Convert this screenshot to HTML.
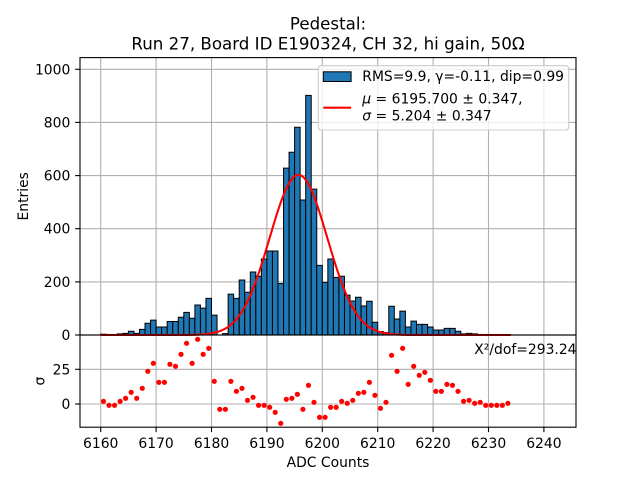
<!DOCTYPE html>
<html>
<head>
<meta charset="utf-8">
<style>
html,body{margin:0;padding:0;background:#fff;}
svg{display:block;}
text{font-family:"DejaVu Sans","Liberation Sans",sans-serif;fill:#000;}
.bars rect{fill:#1f77b4;stroke:#000;stroke-width:1;vector-effect:non-scaling-stroke;}
.grid line{stroke:#b0b0b0;stroke-width:1.1;}
.tick line{stroke:#000;stroke-width:1.1;}
</style>
</head>
<body>
<svg width="640" height="480" viewBox="0 0 640 480" xmlns="http://www.w3.org/2000/svg">
<rect x="0" y="0" width="640" height="480" fill="#fff"/>

<!-- grid main -->
<g class="grid">
  <line x1="100.7" y1="57.6" x2="100.7" y2="335"/>
  <line x1="156.1" y1="57.6" x2="156.1" y2="335"/>
  <line x1="211.5" y1="57.6" x2="211.5" y2="335"/>
  <line x1="266.9" y1="57.6" x2="266.9" y2="335"/>
  <line x1="322.3" y1="57.6" x2="322.3" y2="335"/>
  <line x1="377.7" y1="57.6" x2="377.7" y2="335"/>
  <line x1="433.1" y1="57.6" x2="433.1" y2="335"/>
  <line x1="488.5" y1="57.6" x2="488.5" y2="335"/>
  <line x1="543.9" y1="57.6" x2="543.9" y2="335"/>
  <line x1="80" y1="281.9" x2="576" y2="281.9"/>
  <line x1="80" y1="228.7" x2="576" y2="228.7"/>
  <line x1="80" y1="175.6" x2="576" y2="175.6"/>
  <line x1="80" y1="122.4" x2="576" y2="122.4"/>
  <line x1="80" y1="69.3" x2="576" y2="69.3"/>
  <!-- residual grid -->
  <line x1="100.7" y1="335" x2="100.7" y2="427.2"/>
  <line x1="156.1" y1="335" x2="156.1" y2="427.2"/>
  <line x1="211.5" y1="335" x2="211.5" y2="427.2"/>
  <line x1="266.9" y1="335" x2="266.9" y2="427.2"/>
  <line x1="322.3" y1="335" x2="322.3" y2="427.2"/>
  <line x1="377.7" y1="335" x2="377.7" y2="427.2"/>
  <line x1="433.1" y1="335" x2="433.1" y2="427.2"/>
  <line x1="488.5" y1="335" x2="488.5" y2="427.2"/>
  <line x1="543.9" y1="335" x2="543.9" y2="427.2"/>
  <line x1="80" y1="404" x2="576" y2="404"/>
  <line x1="80" y1="369.3" x2="576" y2="369.3"/>
</g>

<!-- histogram bars -->
<g class="bars" transform="translate(100.7 335) scale(5.54 -0.2657)">
<rect x="0" width="1" height="3"/><rect x="1" width="1" height="2"/><rect x="2" width="1" height="2"/><rect x="3" width="1" height="4"/><rect x="4" width="1" height="6"/>
<rect x="5" width="1" height="14"/><rect x="6" width="1" height="6"/><rect x="7" width="1" height="21"/><rect x="8" width="1" height="44"/><rect x="9" width="1" height="56"/>
<rect x="10" width="1" height="30"/><rect x="11" width="1" height="30"/><rect x="12" width="1" height="51"/><rect x="13" width="1" height="51"/><rect x="14" width="1" height="67"/>
<rect x="15" width="1" height="85"/><rect x="16" width="1" height="63"/><rect x="17" width="1" height="113"/><rect x="18" width="1" height="101"/><rect x="19" width="1" height="138"/>
<rect x="20" width="1" height="75"/><rect x="21" width="1" height="0"/><rect x="22" width="1" height="5"/><rect x="23" width="1" height="154"/><rect x="24" width="1" height="138"/>
<rect x="25" width="1" height="207"/><rect x="26" width="1" height="161"/><rect x="27" width="1" height="237"/><rect x="28" width="1" height="221"/><rect x="29" width="1" height="286"/>
<rect x="30" width="1" height="316"/><rect x="31" width="1" height="316"/><rect x="32" width="1" height="194"/><rect x="33" width="1" height="628"/><rect x="34" width="1" height="688"/>
<rect x="35" width="1" height="782"/><rect x="36" width="1" height="508"/><rect x="37" width="1" height="902"/><rect x="38" width="1" height="549"/><rect x="39" width="1" height="262"/>
<rect x="40" width="1" height="198"/><rect x="41" width="1" height="286"/><rect x="42" width="1" height="217"/><rect x="43" width="1" height="221"/><rect x="44" width="1" height="150"/>
<rect x="45" width="1" height="128"/><rect x="46" width="1" height="142"/><rect x="47" width="1" height="109"/><rect x="48" width="1" height="127"/><rect x="49" width="1" height="48"/>
<rect x="50" width="1" height="13"/><rect x="51" width="1" height="9"/><rect x="52" width="1" height="108"/><rect x="53" width="1" height="60"/><rect x="54" width="1" height="90"/>
<rect x="55" width="1" height="30"/><rect x="56" width="1" height="52"/><rect x="57" width="1" height="40"/><rect x="58" width="1" height="40"/><rect x="59" width="1" height="30"/>
<rect x="60" width="1" height="19"/><rect x="61" width="1" height="19"/><rect x="62" width="1" height="25"/><rect x="63" width="1" height="25"/><rect x="64" width="1" height="14"/>
<rect x="65" width="1" height="4"/><rect x="66" width="1" height="6"/><rect x="67" width="1" height="4"/><rect x="68" width="1" height="2"/><rect x="69" width="1" height="1"/>
<rect x="70" width="1" height="1"/><rect x="71" width="1" height="1"/><rect x="72" width="1" height="1"/><rect x="73" width="1" height="1"/>
</g>

<!-- gaussian fit -->
<polyline fill="none" stroke="#ff0000" stroke-width="2.08" stroke-linejoin="round" points="
100.7,335 182.14,334.95 187.68,334.90 193.22,334.79 198.76,334.59 204.30,334.23 209.84,333.58 215.38,332.48 218.15,331.70 220.92,330.70 223.69,329.46 226.46,327.93 229.23,326.05 232.00,323.78 234.77,321.06 237.54,317.84 240.31,314.07 243.08,309.71 245.85,304.73 248.62,299.08 251.39,292.79 254.16,285.85 256.93,278.29 259.70,270.17 262.47,261.56 265.24,252.59 268.01,243.35 270.78,234.02 273.55,224.77 276.32,215.77 279.09,207.23 281.86,199.32 284.63,192.26 287.40,186.20 290.17,181.32 292.94,177.73 295.71,175.53 298.48,174.80 301.25,175.53 304.02,177.73 306.79,181.32 309.56,186.20 312.33,192.26 315.10,199.32 317.87,207.23 320.64,215.77 323.41,224.77 326.18,234.02 328.95,243.35 331.72,252.59 334.49,261.56 337.26,270.17 340.03,278.29 342.80,285.85 345.57,292.79 348.34,299.08 351.11,304.73 353.88,309.71 356.65,314.07 359.42,317.84 362.19,321.06 364.96,323.78 367.73,326.05 370.50,327.93 373.27,329.46 376.04,330.70 378.81,331.70 381.58,332.48 387.12,333.58 392.66,334.23 398.20,334.59 403.74,334.79 409.28,334.90 414.82,334.95 510.7,335"/>

<!-- residual points -->
<g fill="#ff0000">
<circle cx="103.47" cy="401.3" r="2.6"/><circle cx="109.01" cy="405.3" r="2.6"/><circle cx="114.55" cy="405.3" r="2.6"/><circle cx="120.09" cy="401.3" r="2.6"/><circle cx="125.63" cy="398.3" r="2.6"/>
<circle cx="131.17" cy="392.3" r="2.6"/><circle cx="136.71" cy="398.3" r="2.6"/><circle cx="142.25" cy="388.3" r="2.6"/><circle cx="147.79" cy="371.3" r="2.6"/><circle cx="153.33" cy="363.3" r="2.6"/>
<circle cx="158.87" cy="382.3" r="2.6"/><circle cx="164.41" cy="382.3" r="2.6"/><circle cx="169.95" cy="364.3" r="2.6"/><circle cx="175.49" cy="366.3" r="2.6"/><circle cx="181.03" cy="354.3" r="2.6"/>
<circle cx="186.57" cy="343.3" r="2.6"/><circle cx="192.11" cy="363.3" r="2.6"/><circle cx="197.65" cy="339.3" r="2.6"/><circle cx="203.19" cy="354.3" r="2.6"/><circle cx="208.73" cy="348.3" r="2.6"/>
<circle cx="214.27" cy="381.3" r="2.6"/><circle cx="219.81" cy="409.3" r="2.6"/><circle cx="225.35" cy="409.3" r="2.6"/><circle cx="230.89" cy="381.3" r="2.6"/><circle cx="236.43" cy="391.3" r="2.6"/>
<circle cx="241.97" cy="388.3" r="2.6"/><circle cx="247.51" cy="400.3" r="2.6"/><circle cx="253.05" cy="397.3" r="2.6"/><circle cx="258.59" cy="405.3" r="2.6"/><circle cx="264.13" cy="405.3" r="2.6"/>
<circle cx="269.67" cy="407.3" r="2.6"/><circle cx="275.21" cy="412.3" r="2.6"/><circle cx="280.75" cy="423.3" r="2.6"/><circle cx="286.29" cy="399.3" r="2.6"/><circle cx="291.83" cy="398.3" r="2.6"/>
<circle cx="297.37" cy="394.3" r="2.6"/><circle cx="302.91" cy="409.3" r="2.6"/><circle cx="308.45" cy="385.3" r="2.6"/><circle cx="313.99" cy="402.3" r="2.6"/><circle cx="319.53" cy="417.3" r="2.6"/>
<circle cx="325.07" cy="417.3" r="2.6"/><circle cx="330.61" cy="407.3" r="2.6"/><circle cx="336.15" cy="407.3" r="2.6"/><circle cx="341.69" cy="401.3" r="2.6"/><circle cx="347.23" cy="403.3" r="2.6"/>
<circle cx="352.77" cy="400.3" r="2.6"/><circle cx="358.31" cy="393.3" r="2.6"/><circle cx="363.85" cy="392.3" r="2.6"/><circle cx="369.39" cy="382.3" r="2.6"/><circle cx="374.93" cy="395.3" r="2.6"/>
<circle cx="380.47" cy="408.3" r="2.6"/><circle cx="386.01" cy="402.3" r="2.6"/><circle cx="391.55" cy="355.3" r="2.6"/><circle cx="397.09" cy="371.3" r="2.6"/><circle cx="402.63" cy="348.3" r="2.6"/>
<circle cx="408.17" cy="384.3" r="2.6"/><circle cx="413.71" cy="366.3" r="2.6"/><circle cx="419.25" cy="375.3" r="2.6"/><circle cx="424.79" cy="372.3" r="2.6"/><circle cx="430.33" cy="380.3" r="2.6"/>
<circle cx="435.87" cy="391.3" r="2.6"/><circle cx="441.41" cy="391.3" r="2.6"/><circle cx="446.95" cy="384.3" r="2.6"/><circle cx="452.49" cy="385.3" r="2.6"/><circle cx="458.03" cy="391.3" r="2.6"/>
<circle cx="463.57" cy="401.3" r="2.6"/><circle cx="469.11" cy="400.3" r="2.6"/><circle cx="474.65" cy="403.3" r="2.6"/><circle cx="480.19" cy="402.3" r="2.6"/><circle cx="485.73" cy="405.3" r="2.6"/>
<circle cx="491.27" cy="405.3" r="2.6"/><circle cx="496.81" cy="405.3" r="2.6"/><circle cx="502.35" cy="405.3" r="2.6"/><circle cx="507.89" cy="403.3" r="2.6"/>
</g>

<!-- spines -->
<rect x="80" y="57.6" width="496" height="277.4" fill="none" stroke="#000" stroke-width="1.1"/>
<rect x="80" y="335" width="496" height="92.2" fill="none" stroke="#000" stroke-width="1.1"/>

<!-- ticks -->
<g class="tick">
  <line x1="100.7" y1="427.2" x2="100.7" y2="432.1"/>
  <line x1="156.1" y1="427.2" x2="156.1" y2="432.1"/>
  <line x1="211.5" y1="427.2" x2="211.5" y2="432.1"/>
  <line x1="266.9" y1="427.2" x2="266.9" y2="432.1"/>
  <line x1="322.3" y1="427.2" x2="322.3" y2="432.1"/>
  <line x1="377.7" y1="427.2" x2="377.7" y2="432.1"/>
  <line x1="433.1" y1="427.2" x2="433.1" y2="432.1"/>
  <line x1="488.5" y1="427.2" x2="488.5" y2="432.1"/>
  <line x1="543.9" y1="427.2" x2="543.9" y2="432.1"/>
  <line x1="75.1" y1="335" x2="80" y2="335"/>
  <line x1="75.1" y1="281.9" x2="80" y2="281.9"/>
  <line x1="75.1" y1="228.7" x2="80" y2="228.7"/>
  <line x1="75.1" y1="175.6" x2="80" y2="175.6"/>
  <line x1="75.1" y1="122.4" x2="80" y2="122.4"/>
  <line x1="75.1" y1="69.3" x2="80" y2="69.3"/>
  <line x1="75.1" y1="404" x2="80" y2="404"/>
  <line x1="75.1" y1="369.3" x2="80" y2="369.3"/>
</g>

<!-- tick labels -->
<g font-size="13.9px" text-anchor="middle">
  <text x="100.7" y="447.8">6160</text>
  <text x="156.1" y="447.8">6170</text>
  <text x="211.5" y="447.8">6180</text>
  <text x="266.9" y="447.8">6190</text>
  <text x="322.3" y="447.8">6200</text>
  <text x="377.7" y="447.8">6210</text>
  <text x="433.1" y="447.8">6220</text>
  <text x="488.5" y="447.8">6230</text>
  <text x="543.9" y="447.8">6240</text>
</g>
<g font-size="13.9px" text-anchor="end">
  <text x="70.3" y="340">0</text>
  <text x="70.3" y="286.9">200</text>
  <text x="70.3" y="233.7">400</text>
  <text x="70.3" y="180.6">600</text>
  <text x="70.3" y="127.4">800</text>
  <text x="70.3" y="74.3">1000</text>
  <text x="70.3" y="409">0</text>
  <text x="70.3" y="374.3">25</text>
</g>

<!-- axis labels -->
<text x="328" y="467" font-size="13.9px" text-anchor="middle">ADC Counts</text>
<text transform="translate(28 196.3) rotate(-90)" font-size="13.9px" text-anchor="middle">Entries</text>
<text transform="translate(44.3 381.1) rotate(-90)" font-size="13.9px" text-anchor="middle">σ</text>

<!-- chi2 -->
<text x="576.5" y="354" font-size="13.9px" text-anchor="end">X²/dof=293.24</text>

<!-- title -->
<text x="328" y="29.3" font-size="16.67px" text-anchor="middle">Pedestal:</text>
<text x="328" y="49.3" font-size="16.67px" text-anchor="middle">Run 27, Board ID E190324, CH 32, hi gain, 50Ω</text>

<!-- legend -->
<rect x="318.3" y="65.7" width="250.4" height="64.3" rx="2.8" ry="2.8" fill="#fff" fill-opacity="0.8" stroke="#cccccc" stroke-width="1.1"/>
<rect x="323.3" y="71.8" width="27.8" height="9.7" fill="#1f77b4" stroke="#000" stroke-width="1"/>
<line x1="323.3" y1="107.7" x2="351.1" y2="107.7" stroke="#ff0000" stroke-width="2.08"/>
<g font-size="13.9px">
  <text x="362.3" y="80.8">RMS=9.9, γ=-0.11, dip=0.99</text>
  <text x="362.3" y="103.7"><tspan font-style="italic">μ</tspan> = 6195.700 ± 0.347,</text>
  <text x="362.3" y="120.3"><tspan font-style="italic">σ</tspan> = 5.204 ± 0.347</text>
</g>
</svg>
</body>
</html>
